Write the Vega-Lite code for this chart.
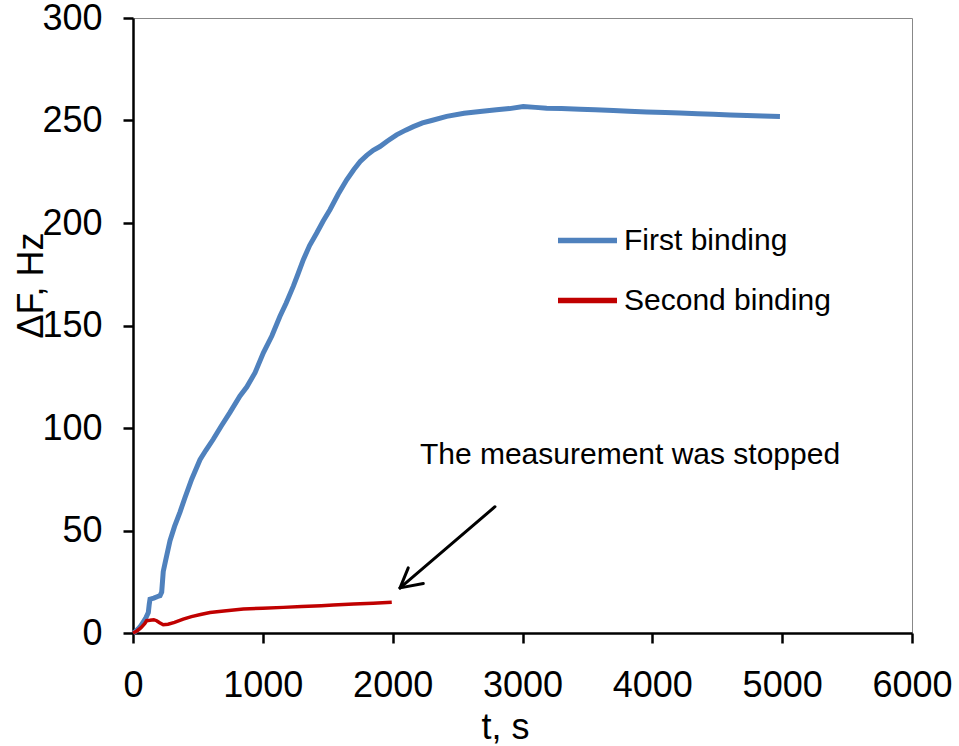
{
  "$schema": "https://vega.github.io/schema/vega-lite/v6.json",
  "width": 779,
  "height": 615,
  "autosize": {"type": "none"},
  "padding": {"left": 133, "top": 18, "right": 47, "bottom": 113},
  "background": "white",
  "config": {
    "font": "Liberation Sans",
    "view": {"stroke": "#888888", "strokeWidth": 1},
    "axis": {
      "grid": false,
      "domainColor": "black",
      "domainWidth": 2.5,
      "tickColor": "black",
      "tickWidth": 2.5,
      "tickSize": 10,
      "labelFont": "Liberation Sans",
      "labelFontSize": 36,
      "labelColor": "black",
      "labelFlush": false,
      "labelOverlap": false,
      "titleFont": "Liberation Sans",
      "titleFontSize": 36,
      "titleFontWeight": "normal",
      "titleColor": "black"
    }
  },
  "datasets": {
    "curves": [
      {"t": 0, "F": 0, "series": "First binding"},
      {"t": 20, "F": 0.8, "series": "First binding"},
      {"t": 40, "F": 2.0, "series": "First binding"},
      {"t": 60, "F": 3.5, "series": "First binding"},
      {"t": 80, "F": 5.5, "series": "First binding"},
      {"t": 100, "F": 7.5, "series": "First binding"},
      {"t": 118, "F": 10, "series": "First binding"},
      {"t": 125, "F": 14, "series": "First binding"},
      {"t": 131, "F": 16.5, "series": "First binding"},
      {"t": 160, "F": 17, "series": "First binding"},
      {"t": 190, "F": 17.8, "series": "First binding"},
      {"t": 208, "F": 18.2, "series": "First binding"},
      {"t": 221, "F": 20, "series": "First binding"},
      {"t": 233, "F": 30, "series": "First binding"},
      {"t": 250, "F": 35, "series": "First binding"},
      {"t": 285, "F": 45, "series": "First binding"},
      {"t": 320, "F": 52, "series": "First binding"},
      {"t": 362, "F": 59, "series": "First binding"},
      {"t": 400, "F": 66, "series": "First binding"},
      {"t": 452, "F": 75, "series": "First binding"},
      {"t": 516, "F": 84.5, "series": "First binding"},
      {"t": 560, "F": 89, "series": "First binding"},
      {"t": 618, "F": 94.5, "series": "First binding"},
      {"t": 680, "F": 101, "series": "First binding"},
      {"t": 747, "F": 107.6, "series": "First binding"},
      {"t": 824, "F": 115.6, "series": "First binding"},
      {"t": 876, "F": 120, "series": "First binding"},
      {"t": 940, "F": 127, "series": "First binding"},
      {"t": 1004, "F": 136.7, "series": "First binding"},
      {"t": 1070, "F": 145, "series": "First binding"},
      {"t": 1132, "F": 154.5, "series": "First binding"},
      {"t": 1180, "F": 161, "series": "First binding"},
      {"t": 1235, "F": 169.2, "series": "First binding"},
      {"t": 1270, "F": 175, "series": "First binding"},
      {"t": 1312, "F": 182.1, "series": "First binding"},
      {"t": 1360, "F": 189, "series": "First binding"},
      {"t": 1415, "F": 195.1, "series": "First binding"},
      {"t": 1465, "F": 201, "series": "First binding"},
      {"t": 1517, "F": 206.5, "series": "First binding"},
      {"t": 1580, "F": 214, "series": "First binding"},
      {"t": 1646, "F": 221.1, "series": "First binding"},
      {"t": 1700, "F": 226, "series": "First binding"},
      {"t": 1750, "F": 230, "series": "First binding"},
      {"t": 1800, "F": 233, "series": "First binding"},
      {"t": 1850, "F": 235.5, "series": "First binding"},
      {"t": 1902, "F": 237.3, "series": "First binding"},
      {"t": 1960, "F": 240, "series": "First binding"},
      {"t": 2030, "F": 243, "series": "First binding"},
      {"t": 2100, "F": 245.3, "series": "First binding"},
      {"t": 2159, "F": 247, "series": "First binding"},
      {"t": 2230, "F": 248.8, "series": "First binding"},
      {"t": 2300, "F": 250, "series": "First binding"},
      {"t": 2416, "F": 252, "series": "First binding"},
      {"t": 2550, "F": 253.5, "series": "First binding"},
      {"t": 2673, "F": 254.4, "series": "First binding"},
      {"t": 2800, "F": 255.2, "series": "First binding"},
      {"t": 2900, "F": 255.8, "series": "First binding"},
      {"t": 3006, "F": 256.8, "series": "First binding"},
      {"t": 3100, "F": 256.4, "series": "First binding"},
      {"t": 3186, "F": 256, "series": "First binding"},
      {"t": 3300, "F": 255.8, "series": "First binding"},
      {"t": 3443, "F": 255.5, "series": "First binding"},
      {"t": 3560, "F": 255.2, "series": "First binding"},
      {"t": 3700, "F": 254.9, "series": "First binding"},
      {"t": 3820, "F": 254.5, "series": "First binding"},
      {"t": 3957, "F": 254.2, "series": "First binding"},
      {"t": 4100, "F": 253.9, "series": "First binding"},
      {"t": 4213, "F": 253.6, "series": "First binding"},
      {"t": 4350, "F": 253.3, "series": "First binding"},
      {"t": 4470, "F": 253.1, "series": "First binding"},
      {"t": 4600, "F": 252.7, "series": "First binding"},
      {"t": 4727, "F": 252.4, "series": "First binding"},
      {"t": 4850, "F": 252.2, "series": "First binding"},
      {"t": 4983, "F": 252, "series": "First binding"},
      {"t": 0, "F": 0, "series": "Second binding"},
      {"t": 30, "F": 1, "series": "Second binding"},
      {"t": 60, "F": 2.5, "series": "Second binding"},
      {"t": 90, "F": 4.5, "series": "Second binding"},
      {"t": 105, "F": 6, "series": "Second binding"},
      {"t": 130, "F": 6.2, "series": "Second binding"},
      {"t": 160, "F": 6.5, "series": "Second binding"},
      {"t": 182, "F": 6, "series": "Second binding"},
      {"t": 205, "F": 5, "series": "Second binding"},
      {"t": 233, "F": 4, "series": "Second binding"},
      {"t": 270, "F": 4.3, "series": "Second binding"},
      {"t": 320, "F": 5.2, "series": "Second binding"},
      {"t": 387, "F": 6.8, "series": "Second binding"},
      {"t": 450, "F": 8, "series": "Second binding"},
      {"t": 520, "F": 9, "series": "Second binding"},
      {"t": 593, "F": 10, "series": "Second binding"},
      {"t": 700, "F": 10.7, "series": "Second binding"},
      {"t": 850, "F": 11.7, "series": "Second binding"},
      {"t": 1000, "F": 12.1, "series": "Second binding"},
      {"t": 1158, "F": 12.5, "series": "Second binding"},
      {"t": 1300, "F": 12.9, "series": "Second binding"},
      {"t": 1450, "F": 13.3, "series": "Second binding"},
      {"t": 1543, "F": 13.6, "series": "Second binding"},
      {"t": 1700, "F": 14.1, "series": "Second binding"},
      {"t": 1850, "F": 14.5, "series": "Second binding"},
      {"t": 1993, "F": 15, "series": "Second binding"}
    ],
    "arrow": [
      {"x1": 2788, "y1": 61.6, "x2": 2057, "y2": 22.0},
      {"x1": 2236, "y1": 24.1, "x2": 2057, "y2": 22.0},
      {"x1": 2120, "y1": 31.8, "x2": 2057, "y2": 22.0}
    ],
    "note": [
      {"t": 3828, "F": 82.2, "label": "The measurement was stopped"}
    ]
  },
  "encoding": {
    "x": {
      "field": "t",
      "type": "quantitative",
      "scale": {"domain": [0, 6000], "nice": false, "zero": false},
      "axis": {
        "values": [0, 1000, 2000, 3000, 4000, 5000, 6000],
        "format": "d",
        "labelPadding": 25,
        "title": "t, s",
        "titleX": 372,
        "titleY": 105,
        "titleAlign": "center",
        "titleBaseline": "alphabetic"
      }
    },
    "y": {
      "field": "F",
      "type": "quantitative",
      "scale": {"domain": [0, 300], "nice": false},
      "axis": {
        "values": [0, 50, 100, 150, 200, 250, 300],
        "format": "d",
        "labelPadding": 21,
        "title": "ΔF, Hz",
        "titleAngle": -90,
        "titleX": -91,
        "titleY": 267,
        "titleAlign": "center",
        "titleBaseline": "alphabetic"
      }
    }
  },
  "layer": [
    {
      "data": {"name": "curves"},
      "transform": [{"filter": "datum.series === 'First binding'"}],
      "mark": {"type": "line", "clip": false, "strokeWidth": 5},
      "encoding": {
        "color": {
          "field": "series",
          "type": "nominal",
          "scale": {"domain": ["First binding", "Second binding"], "range": ["#4F81BD", "#C00000"]},
          "legend": {
            "orient": "none",
            "legendX": 422,
            "legendY": 190,
            "title": null,
            "symbolType": "stroke",
            "symbolSize": 3481,
            "symbolStrokeWidth": 5.5,
            "labelFontSize": 30,
            "labelFont": "Liberation Sans",
            "labelColor": "black",
            "labelLimit": 0,
            "labelOffset": 4,
            "rowPadding": 12,
            "padding": 0
          }
        }
      }
    },
    {
      "data": {"name": "curves"},
      "transform": [{"filter": "datum.series === 'Second binding'"}],
      "mark": {"type": "line", "clip": false, "strokeWidth": 3.5},
      "encoding": {
        "color": {"field": "series", "type": "nominal"}
      }
    },
    {
      "data": {"name": "arrow"},
      "mark": {"type": "rule", "color": "black", "strokeWidth": 3, "strokeCap": "round"},
      "encoding": {
        "x": {"field": "x1", "type": "quantitative"},
        "y": {"field": "y1", "type": "quantitative"},
        "x2": {"field": "x2"},
        "y2": {"field": "y2"}
      }
    },
    {
      "data": {"name": "note"},
      "mark": {"type": "text", "fontSize": 30, "font": "Liberation Sans", "align": "center", "baseline": "alphabetic", "color": "black"},
      "encoding": {
        "text": {"field": "label"}
      }
    }
  ]
}
